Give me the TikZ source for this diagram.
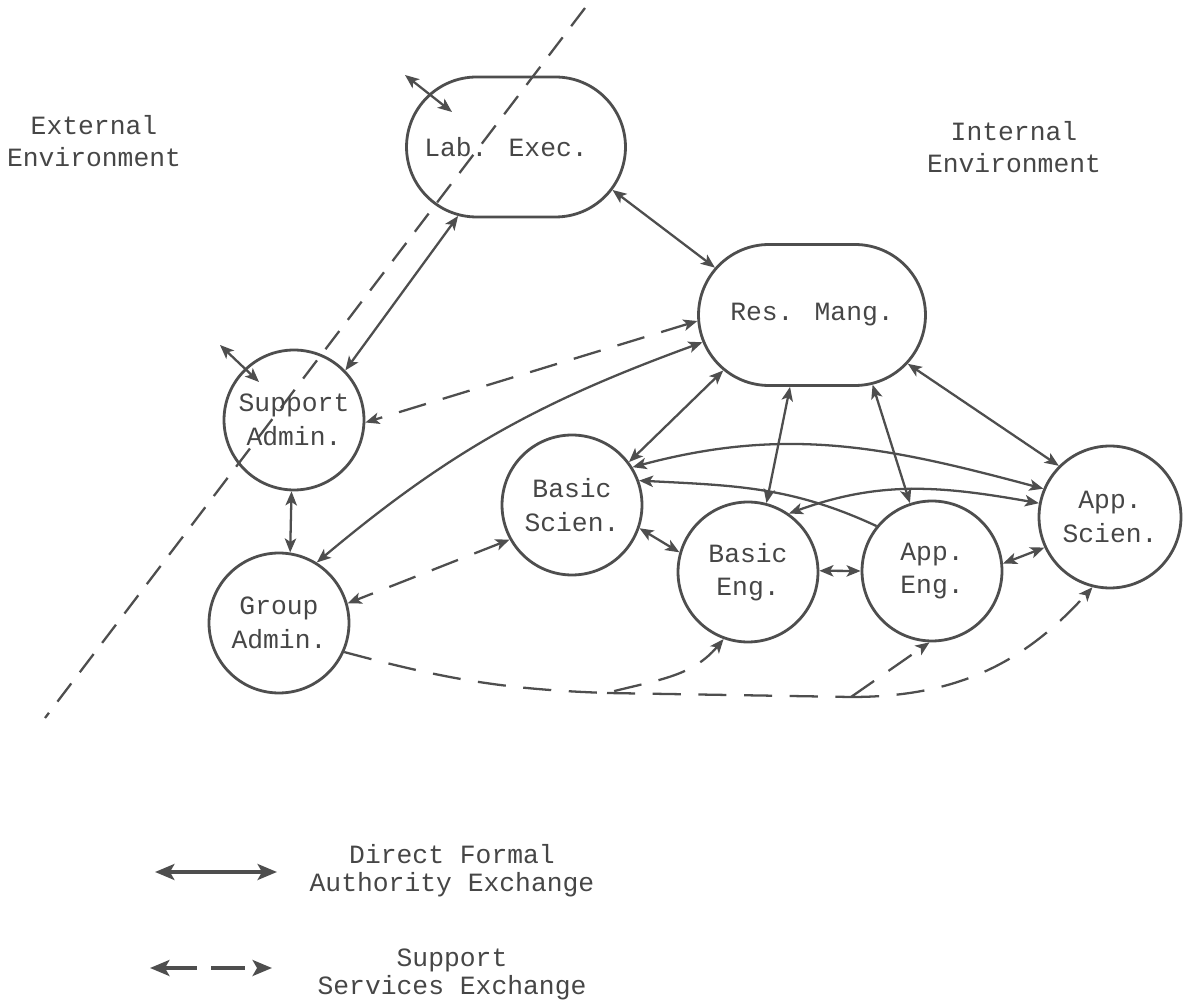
\documentclass[tikz,border=0pt]{standalone}
\usepackage{fontspec}
\setmainfont{Liberation Mono}
\usetikzlibrary{arrows.meta,shapes.misc}
\definecolor{lc}{RGB}{78,78,78}
\definecolor{tc}{RGB}{70,70,70}
\newcommand\labfont{\fontsize{15pt}{19pt}\selectfont}
\newcommand\envfont{\fontsize{15pt}{17.8pt}\selectfont}
\newcommand\legfont{\fontsize{15pt}{16pt}\selectfont}
\tikzset{
  tip/.tip={Stealth[length=8pt,width=6.5pt,inset=2pt]},
  bigtip/.tip={Stealth[length=11pt,width=9pt,inset=2.5pt]},
  ln/.style={draw=lc, line width=1.3pt},
  fa/.style={ln, tip-tip},
  fone/.style={ln, -tip},
  sup/.style={ln, tip-tip, dash pattern=on 16pt off 10pt},
  supone/.style={ln, -tip, dash pattern=on 16pt off 10pt},
  supline/.style={ln, dash pattern=on 16pt off 10pt},
  bound/.style={ln, dash pattern=on 13pt off 8pt},
  txt/.style={text=tc, font=\labfont, inner sep=0pt, align=center},
  circ/.style={circle, draw=lc, line width=1.6pt, minimum size=2.8cm,
    inner sep=0pt, align=center, text=tc, font=\labfont},
  stad/.style={rounded rectangle, draw=lc, line width=1.6pt,
    minimum height=2.8cm, inner sep=0pt},
}
\begin{document}
\begin{tikzpicture}[x=0.02cm,y=0.02cm]
\useasboundingbox (0,0) rectangle (1184,-1006);

% boundary
\coordinate (b1) at (585,-8);
\coordinate (b2) at (45,-718);
\draw[bound] (b1) -- (b2);

% environment labels
\node[txt, font=\envfont] (ext) at (94,-141) {External\\Environment};
\node[txt, font=\envfont] (int) at (1014,-147) {Internal\\Environment};

% nodes
\node[stad, minimum width=4.38cm, label={[txt,xshift=-0.2cm]center:Lab. Exec.}] (le) at (516,-147) {};
\node[stad, minimum width=4.54cm, minimum height=2.82cm, label={[txt]center:Res. Mang.}] (rm) at (812,-315) {};
\node[circ] (sa) at (294,-420) {Support\\Admin.};
\node[circ] (ga) at (279,-623) {Group\\Admin.};
\node[circ] (bs) at (572,-505) {Basic\\Scien.};
\node[circ] (be) at (748,-572) {Basic\\Eng.};
\node[circ] (ae) at (932,-571) {App.\\Eng.};
\node[circ, minimum size=2.84cm] (as) at (1110,-517) {App.\\Scien.};

% external exchanges
\coordinate (e1) at (405,-75);
\coordinate (e1t) at (452,-112);
\coordinate (e2) at (220,-345);
\coordinate (e2t) at (259,-382);
\draw[fa] (e1) -- (e1t);
\draw[fa] (e2) -- (e2t);

% direct formal authority
\draw[fa] (le.230) -- (sa.44);
\draw[fa] (le.-24) -- (rm.154);
\draw[fa] (rm.194) to[out=200,in=40] (ga.58);
\draw[fa] (rm.212) -- (bs.37);
\draw[fa] (rm.253) -- (be.75);
\draw[fa] (rm.311) -- (ae.108);
\draw[fa] (rm.333) -- (as.135);
\draw[fa] (bs.32) to[out=15,in=165] (as.157);
\draw[fa] (be.55) to[out=20,in=170] (as.169);
\draw[fone] (ae.141) to[out=155,in=-3] (bs.20);
\draw[fa] (bs.-19) -- (be.164);
\draw[fa] (be.1) -- (ae.180);
\draw[fa] (ae.6) -- (as.205);
\draw[fa] (sa.268) -- (ga.81);

% support services
\draw[sup] (rm.183) -- (sa.-2);
\draw[sup] (bs.209) -- (ga.16);
\coordinate (j1) at (607,-693);
\coordinate (j2) at (851,-697);
\draw[supone] (ga.-24) to[out=-15,in=178] (j1) to[out=15,in=-130] (be.250);
\draw[supline] (j1) -- (j2);
\draw[supone] (j2) -- (ae.-92);
\draw[supone] (j2) to[out=0,in=228] (as.256);

% legend
\coordinate (ls1) at (155,-872);
\coordinate (ls2) at (277,-872);
\coordinate (ld1) at (150,-968);
\coordinate (ld2) at (272,-968);
\draw[draw=lc, line width=2.2pt, bigtip-bigtip] (ls1) -- (ls2);
\draw[draw=lc, line width=2.2pt, bigtip-bigtip, dash pattern=on 19pt off 8pt] (ld1) -- (ld2);
\node[txt, font=\legfont] (lt1) at (452,-871) {Direct Formal\\Authority Exchange};
\node[txt, font=\legfont] (lt2) at (452,-974) {Support\\Services Exchange};
\end{tikzpicture}
\end{document}
